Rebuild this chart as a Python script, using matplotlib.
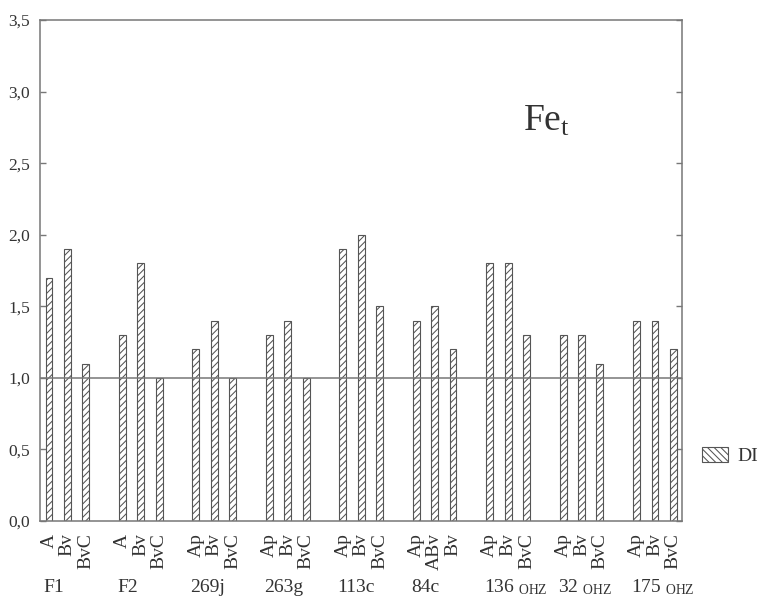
import matplotlib
matplotlib.use('Agg')

import numpy as np
import matplotlib.pyplot as plt
from matplotlib.patches import Patch
from matplotlib.transforms import blended_transform_factory

# Profiles and their horizons
groups = ['F1', 'F2', '269j', '263g', '113c', '84c', '136', '32', '175']
groupSubs = ['', '', '', '', '', '', 'OHZ', 'OHZ', 'OHZ']
horizons = [
    ['A', 'Bv', 'BvC'],
    ['A', 'Bv', 'BvC'],
    ['Ap', 'Bv', 'BvC'],
    ['Ap', 'Bv', 'BvC'],
    ['Ap', 'Bv', 'BvC'],
    ['Ap', 'ABv', 'Bv'],
    ['Ap', 'Bv', 'BvC'],
    ['Ap', 'Bv', 'BvC'],
    ['Ap', 'Bv', 'BvC'],
]
# DI values for Fe_t
di = [
    [1.7, 1.9, 1.1],
    [1.3, 1.8, 1.0],
    [1.2, 1.4, 1.0],
    [1.3, 1.4, 1.0],
    [1.9, 2.0, 1.5],
    [1.4, 1.5, 1.2],
    [1.8, 1.8, 1.3],
    [1.3, 1.3, 1.1],
    [1.4, 1.4, 1.2],
]
yTicks = [0.0, 0.5, 1.0, 1.5, 2.0, 2.5, 3.0, 3.5]

textColor = '#333333'
lineColor = '#777777'
plt.rcParams['font.family'] = ['Liberation Serif', 'DejaVu Serif']
plt.rcParams['mathtext.fontset'] = 'custom'
plt.rcParams['mathtext.rm'] = 'Liberation Serif'
plt.rcParams['mathtext.it'] = 'Liberation Serif'
plt.rcParams['hatch.linewidth'] = 0.75
plt.rcParams['text.color'] = textColor

def main():
    fig = plt.figure(figsize=(7.61, 5.99), dpi=100)
    ax = fig.add_axes([40 / 761, 1 - 521 / 599, 642 / 761, 501 / 599])

    # Bar positions: three bars per profile, one empty slot between profiles
    xs, vals, labels = [], [], []
    for g in range(len(groups)):
        for i in range(3):
            xs.append(g * 4 + i)
            vals.append(di[g][i])
            labels.append(horizons[g][i])

    ax.bar(xs, vals, width=0.38, color='white', edgecolor='#555555',
           linewidth=0.8, hatch='/////', zorder=2)
    ax.axhline(1.0, color=lineColor, linewidth=1.1, zorder=3)

    ax.set_xlim(-0.49, 34.47)
    ax.set_ylim(0, 3.5)

    ax.set_yticks(yTicks)
    ax.set_yticklabels(['{:.1f}'.format(v).replace('.', ',') for v in yTicks],
                       fontsize=12.5, color=textColor)
    ax.tick_params(axis='y', direction='in', length=4, width=1.0,
                   color=lineColor, right=True, pad=7)

    ax.set_xticks(xs)
    ax.set_xticklabels(labels, rotation=90, fontsize=14, color=textColor)
    ax.tick_params(axis='x', length=0, pad=9)

    for s in ax.spines.values():
        s.set_color(lineColor)
        s.set_linewidth(1.1)

    # Profile names under the horizon labels
    trans = blended_transform_factory(ax.transData, ax.transAxes)
    for g, name in enumerate(groups):
        label = name
        if groupSubs[g]:
            label = name + r' $_{\mathrm{' + groupSubs[g] + '}}$'
        ax.text(g * 4 - 0.3, -0.1417, label, transform=trans, fontsize=14,
                ha='left', va='baseline', color=textColor)

    ax.text(0.826, 0.78, r'Fe$_{\mathrm{t}}$', transform=ax.transAxes,
            fontsize=27, ha='right', va='baseline', color=textColor)

    handle = Patch(facecolor='white', edgecolor='#555555', linewidth=0.8,
                   hatch='\\\\\\\\\\', label='DI')
    fig.legend(handles=[handle], loc='center left',
               bbox_to_anchor=(702 / 761, 1 - 456 / 599), frameon=False,
               borderaxespad=0, borderpad=0, handlelength=1.35,
               handleheight=0.8, handletextpad=0.45, fontsize=14)

    plt.savefig('out.png', dpi=100)

if __name__ == '__main__':
    main()
